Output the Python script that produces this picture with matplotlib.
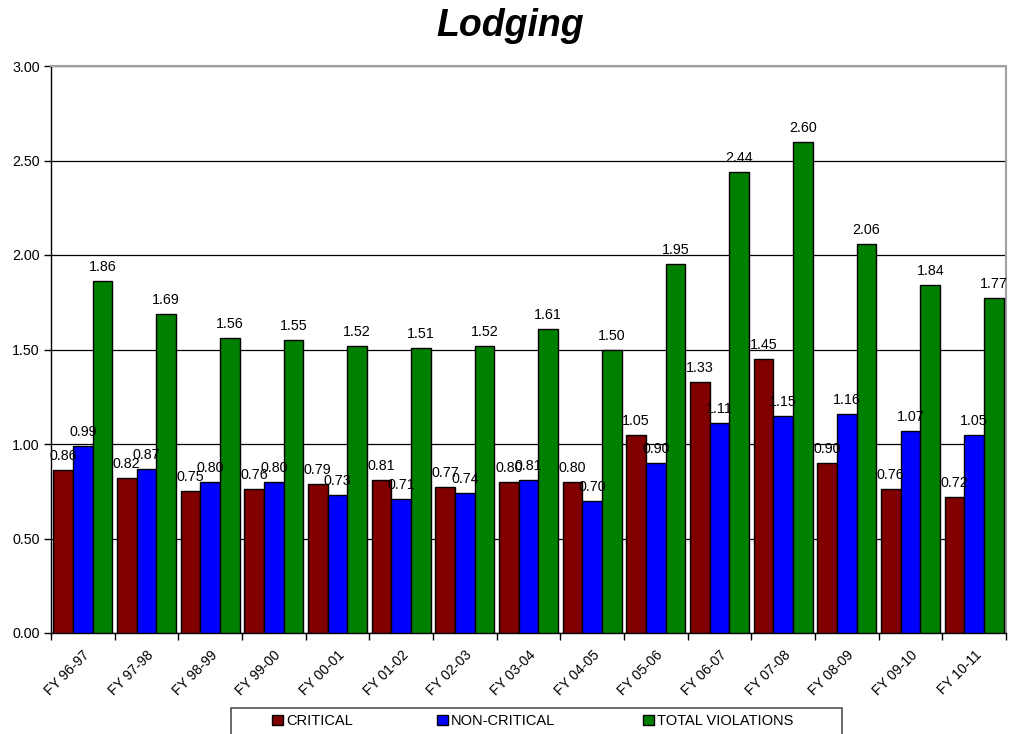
import matplotlib
matplotlib.use("Agg")
import matplotlib.pyplot as plt
from matplotlib.patches import Rectangle, Patch
import numpy as np

plt.rcParams['font.family'] = ['Liberation Sans', 'DejaVu Sans']

years = ["FY 96-97", "FY 97-98", "FY 98-99", "FY 99-00", "FY 00-01", "FY 01-02",
         "FY 02-03", "FY 03-04", "FY 04-05", "FY 05-06", "FY 06-07", "FY 07-08",
         "FY 08-09", "FY 09-10", "FY 10-11"]
critical = [0.86, 0.82, 0.75, 0.76, 0.79, 0.81, 0.77, 0.80, 0.80, 1.05, 1.33, 1.45, 0.90, 0.76, 0.72]
non_critical = [0.99, 0.87, 0.80, 0.80, 0.73, 0.71, 0.74, 0.81, 0.70, 0.90, 1.11, 1.15, 1.16, 1.07, 1.05]
total = [1.86, 1.69, 1.56, 1.55, 1.52, 1.51, 1.52, 1.61, 1.50, 1.95, 2.44, 2.60, 2.06, 1.84, 1.77]

series = [("CRITICAL", critical, "#800000"),
          ("NON-CRITICAL", non_critical, "#0000FF"),
          ("TOTAL VIOLATIONS", total, "#008000")]

W, H = 1011, 734
fig = plt.figure(figsize=(W / 100, H / 100), dpi=100)
ax = fig.add_axes([51 / W, 1 - 633 / H, (1006 - 51) / W, (633 - 66) / H])

x = np.arange(len(years))
bw = 0.31
for i, (name, vals, col) in enumerate(series):
    bars = ax.bar(x + (i - 1) * bw, vals, width=bw, color=col,
                  edgecolor="black", linewidth=1.0, zorder=3, label=name)
    for b, v in zip(bars, vals):
        ax.annotate(f"{v:.2f}", (b.get_x() + b.get_width() / 2, v),
                    xytext=(0, 7.2), textcoords="offset points",
                    ha="center", va="baseline", fontsize=10.3, zorder=4)

ax.set_xlim(-0.5, len(years) - 0.5)
ax.set_ylim(0, 3.0)
ax.set_yticks(np.arange(0, 3.01, 0.5))
ax.yaxis.set_major_formatter(matplotlib.ticker.FormatStrFormatter("%.2f"))
ax.tick_params(axis="y", direction="out", length=5, width=1, labelsize=10.3, pad=3)

ax.set_xticks(x)
ax.set_xticklabels(years, rotation=45, ha="right", rotation_mode="anchor", fontsize=10)
ax.tick_params(axis="x", which="major", length=0, pad=11)
ax.set_xticks(np.arange(-0.5, len(years), 1.0), minor=True)
ax.tick_params(axis="x", which="minor", direction="out", length=5, width=1)

ax.yaxis.grid(True, color="black", linewidth=0.9, zorder=0)
ax.set_axisbelow(True)
for side in ("top", "right"):
    ax.spines[side].set_color("#a0a0a0")
    ax.spines[side].set_linewidth(1.5)
for side in ("left", "bottom"):
    ax.spines[side].set_color("black")
    ax.spines[side].set_linewidth(1.0)

fig.text(510 / W, 1 - 36 / H, "Lodging", ha="center", va="baseline",
         fontsize=27, fontweight="bold", fontstyle="italic")

# legend frame and entries
frame = Rectangle((231 / W, -0.02), (842 - 231) / W, 0.02 + (734 - 708) / H,
                  transform=fig.transFigure, facecolor="white",
                  edgecolor="#505050", linewidth=1.2)
fig.patches.append(frame)
entry_x = [272, 437, 643]
for (name, vals, col), ex in zip(series, entry_x):
    fig.legend(handles=[Patch(facecolor=col, edgecolor="black", linewidth=1.0)],
               labels=[name], loc="center left",
               bbox_to_anchor=(ex / W, 1 - 721 / H), frameon=False,
               fontsize=10.5, handlelength=0.75, handleheight=0.75,
               handletextpad=0.2, borderpad=0, borderaxespad=0)

fig.savefig("out.png", dpi=100)
